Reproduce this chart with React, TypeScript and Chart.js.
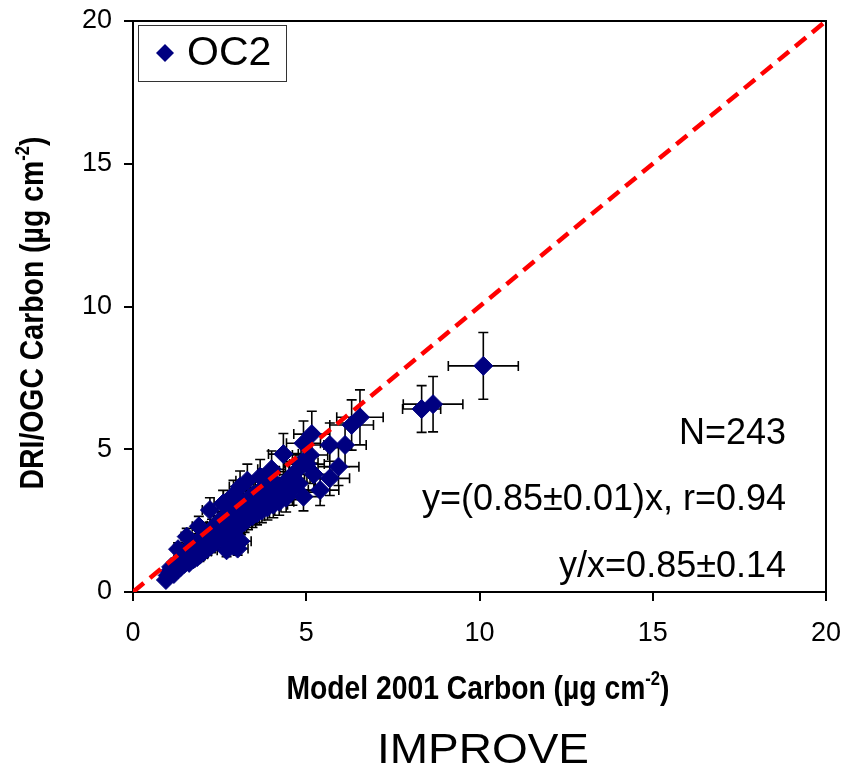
import React, { useEffect, useRef } from "react";
import { Chart, registerables } from "chart.js";

Chart.register(...registerables);

// ---- data ----
const seriesName = "OC2";
const xValues = [
  0.95, 1.0, 1.05, 1.1, 1.18, 1.22, 1.28, 1.32, 1.38, 1.42,
  1.48, 1.52, 1.55, 1.58, 1.62, 1.65, 1.68, 1.72, 1.75, 1.78,
  1.82, 1.85, 1.88, 1.92, 1.95, 1.98, 2.02, 2.05, 2.08, 2.12,
  2.15, 2.18, 2.22, 2.25, 2.28, 2.32, 2.35, 2.38, 2.42, 2.45,
  2.48, 2.52, 2.55, 2.58, 2.62, 2.65, 2.7, 2.72, 2.75, 2.78,
  2.82, 2.85, 2.88, 2.9, 2.92, 2.95, 2.98, 3.02, 3.05, 3.08,
  3.1, 3.12, 3.15, 3.18, 3.22, 3.25, 3.28, 3.32, 3.35, 3.4,
  3.45, 3.48, 3.52, 3.58, 3.62, 3.68, 3.72, 3.78, 3.82, 3.88,
  3.92, 3.98, 4.05, 4.1, 4.15, 4.22, 4.34, 4.35, 4.42, 4.5,
  4.6, 4.7, 4.78, 4.85, 4.92, 4.92, 5.02, 5.11, 5.16, 5.22,
  5.4, 5.68, 5.68, 5.93, 6.12, 6.31, 6.55, 8.33, 8.66, 10.11,
  1.55, 1.9, 2.22, 2.6, 2.9, 3.09, 3.3, 3.67, 4.0, 1.3,
];
const yValues = [
  0.42, 0.58, 0.72, 0.88, 0.63, 0.98, 0.8, 1.08, 0.88, 1.22,
  0.98, 1.32, 1.12, 1.48, 1.02, 1.28, 1.58, 1.38, 1.15, 1.68,
  1.46, 1.22, 1.78, 1.56, 1.32, 1.88, 1.62, 1.42, 1.98, 1.76,
  1.52, 2.08, 1.86, 1.62, 2.22, 1.96, 1.72, 2.32, 2.06, 1.82,
  2.46, 2.16, 1.92, 2.56, 2.26, 1.98, 1.46, 2.62, 2.32, 2.06,
  2.72, 2.42, 2.16, 1.62, 2.86, 2.52, 2.26, 1.52, 2.96, 2.62,
  1.78, 2.36, 3.08, 2.76, 2.46, 3.18, 2.86, 2.56, 3.28, 2.96,
  2.66, 3.4, 3.06, 2.76, 3.5, 3.16, 2.86, 3.6, 3.26, 2.96,
  3.72, 3.38, 3.06, 3.82, 3.48, 3.16, 4.83, 3.66, 3.3, 3.98,
  3.58, 4.22, 3.8, 4.52, 3.34, 5.21, 4.48, 4.8, 5.53, 4.12,
  3.57, 3.98, 5.15, 4.39, 5.15, 5.85, 6.12, 6.41, 6.58, 7.92,
  1.94, 2.3, 2.87, 3.1, 3.4, 3.69, 3.9, 4.04, 4.3, 1.5,
];
const xErrors = [
  0.1, 0.1, 0.11, 0.11, 0.12, 0.12, 0.13, 0.13, 0.14, 0.14,
  0.15, 0.15, 0.16, 0.16, 0.16, 0.17, 0.17, 0.17, 0.18, 0.18,
  0.18, 0.19, 0.19, 0.19, 0.2, 0.2, 0.2, 0.21, 0.21, 0.21,
  0.22, 0.22, 0.22, 0.23, 0.23, 0.23, 0.24, 0.24, 0.24, 0.25,
  0.25, 0.25, 0.26, 0.26, 0.26, 0.27, 0.27, 0.27, 0.28, 0.28,
  0.28, 0.29, 0.29, 0.29, 0.29, 0.3, 0.3, 0.3, 0.31, 0.31,
  0.31, 0.31, 0.32, 0.32, 0.32, 0.33, 0.33, 0.33, 0.34, 0.34,
  0.35, 0.35, 0.35, 0.36, 0.36, 0.37, 0.37, 0.38, 0.38, 0.39,
  0.39, 0.4, 0.41, 0.41, 0.42, 0.42, 0.43, 0.44, 0.44, 0.45,
  0.46, 0.47, 0.48, 0.49, 0.49, 0.49, 0.5, 0.51, 0.52, 0.52,
  0.54, 0.57, 0.57, 0.59, 0.61, 0.63, 0.67, 0.55, 0.86, 1.01,
  0.16, 0.19, 0.22, 0.26, 0.29, 0.31, 0.33, 0.37, 0.4, 0.13,
];
const yErrors = [
  0.07, 0.09, 0.11, 0.13, 0.1, 0.15, 0.12, 0.16, 0.13, 0.18,
  0.15, 0.2, 0.17, 0.22, 0.15, 0.19, 0.24, 0.21, 0.17, 0.25,
  0.22, 0.18, 0.27, 0.23, 0.2, 0.28, 0.24, 0.21, 0.3, 0.26,
  0.23, 0.31, 0.28, 0.24, 0.33, 0.29, 0.26, 0.35, 0.31, 0.27,
  0.37, 0.32, 0.29, 0.38, 0.34, 0.3, 0.22, 0.39, 0.35, 0.31,
  0.41, 0.36, 0.32, 0.24, 0.43, 0.38, 0.34, 0.23, 0.44, 0.39,
  0.27, 0.35, 0.46, 0.41, 0.37, 0.48, 0.43, 0.38, 0.49, 0.44,
  0.4, 0.51, 0.46, 0.41, 0.52, 0.47, 0.43, 0.54, 0.49, 0.44,
  0.56, 0.51, 0.46, 0.57, 0.52, 0.47, 0.72, 0.55, 0.5, 0.6,
  0.54, 0.63, 0.57, 0.68, 0.5, 0.78, 0.67, 0.72, 0.8, 0.62,
  0.54, 0.6, 0.77, 0.66, 0.77, 0.88, 0.96, 0.82, 0.97, 1.17,
  0.29, 0.35, 0.43, 0.46, 0.51, 0.55, 0.58, 0.6, 0.64, 0.22,
];
const oneToOneX = [0, 20];
const oneToOneY = [0, 20];
const axisMin = 0;
const axisMax = 20;
const tickStep = 5;
const statLines = ["N=243", "y=(0.85\u00B10.01)x, r=0.94", "y/x=0.85\u00B10.14"];
const xTitleMain = "Model 2001 Carbon (\u00B5g cm";
const yTitleMain = "DRI/OGC Carbon (\u00B5g cm";
const titleSup = "-2";
const titleClose = ")";
const caption = "IMPROVE";

const SANS = "'Liberation Sans', Arial, Helvetica, sans-serif";
const NAVY = "#000080";

function drawSupTitle(ctx: CanvasRenderingContext2D, main: string, size: number, targetWidth: number) {
  const mainFont = `bold ${size}px ${SANS}`;
  const supFont = `bold ${Math.round(size * 0.6)}px ${SANS}`;
  ctx.font = mainFont;
  const w1 = ctx.measureText(main).width;
  const w3 = ctx.measureText(titleClose).width;
  ctx.font = supFont;
  const w2 = ctx.measureText(titleSup).width;
  const total = w1 + w2 + w3;
  ctx.scale(targetWidth / total, 1);
  let x = -total / 2;
  ctx.textAlign = "left";
  ctx.textBaseline = "alphabetic";
  ctx.font = mainFont;
  ctx.fillText(main, x, 0);
  x += w1;
  ctx.font = supFont;
  ctx.fillText(titleSup, x, -size * 0.42);
  x += w2;
  ctx.font = mainFont;
  ctx.fillText(titleClose, x, 0);
}

const errorBarPlugin = {
  id: "errorBars",
  beforeDatasetsDraw(chart: any) {
    const { ctx, scales } = chart;
    const xs = scales.x;
    const ys = scales.y;
    const cap = 5;
    ctx.save();
    ctx.strokeStyle = "#000";
    ctx.lineWidth = 1.6;
    ctx.beginPath();
    for (let i = 0; i < xValues.length; i++) {
      const px = xs.getPixelForValue(xValues[i]);
      const py = ys.getPixelForValue(yValues[i]);
      const xl = xs.getPixelForValue(xValues[i] - xErrors[i]);
      const xr = xs.getPixelForValue(xValues[i] + xErrors[i]);
      const yt = ys.getPixelForValue(yValues[i] + yErrors[i]);
      const yb = ys.getPixelForValue(yValues[i] - yErrors[i]);
      ctx.moveTo(xl, py); ctx.lineTo(xr, py);
      ctx.moveTo(xl, py - cap); ctx.lineTo(xl, py + cap);
      ctx.moveTo(xr, py - cap); ctx.lineTo(xr, py + cap);
      ctx.moveTo(px, yt); ctx.lineTo(px, yb);
      ctx.moveTo(px - cap, yt); ctx.lineTo(px + cap, yt);
      ctx.moveTo(px - cap, yb); ctx.lineTo(px + cap, yb);
    }
    ctx.stroke();
    ctx.restore();
  },
};

const decorPlugin = {
  id: "decor",
  afterDraw(chart: any) {
    const { ctx, chartArea } = chart;
    const { left, right, top, bottom } = chartArea;
    ctx.save();
    // frame top & right
    ctx.strokeStyle = "#000";
    ctx.lineWidth = 2;
    ctx.beginPath();
    ctx.moveTo(left, top);
    ctx.lineTo(right, top);
    ctx.lineTo(right, bottom);
    ctx.stroke();

    // legend box
    ctx.fillStyle = "#fff";
    ctx.fillRect(138, 25, 148, 56);
    ctx.strokeStyle = "#333";
    ctx.lineWidth = 1;
    ctx.strokeRect(138.5, 25.5, 148, 56);
    const mx = 165;
    const my = 53;
    const r = 9;
    ctx.fillStyle = NAVY;
    ctx.beginPath();
    ctx.moveTo(mx, my - r);
    ctx.lineTo(mx + r, my);
    ctx.lineTo(mx, my + r);
    ctx.lineTo(mx - r, my);
    ctx.closePath();
    ctx.fill();
    ctx.fillStyle = "#000";
    ctx.font = `41px ${SANS}`;
    ctx.textAlign = "left";
    ctx.textBaseline = "alphabetic";
    ctx.fillText(seriesName, 187, 65);

    // statistics
    ctx.font = `36px ${SANS}`;
    ctx.textAlign = "right";
    const bases = [444, 510, 577];
    statLines.forEach((s, i) => ctx.fillText(s, 786, bases[i]));

    // x title
    ctx.save();
    ctx.translate(478, 699);
    drawSupTitle(ctx, xTitleMain, 34, 383);
    ctx.restore();

    // y title
    ctx.save();
    ctx.translate(43, 313);
    ctx.rotate(-Math.PI / 2);
    drawSupTitle(ctx, yTitleMain, 34, 353);
    ctx.restore();

    // caption
    ctx.save();
    ctx.font = `42px ${SANS}`;
    ctx.textAlign = "center";
    ctx.textBaseline = "alphabetic";
    const cw = ctx.measureText(caption).width;
    ctx.translate(483, 763);
    ctx.scale(212 / cw, 1);
    ctx.fillText(caption, 0, 0);
    ctx.restore();
    ctx.restore();
  },
};

function zeroPadding(s: any) {
  s.paddingTop = 0;
  s.paddingBottom = 0;
  s.paddingLeft = 0;
  s.paddingRight = 0;
}

export default function App() {
  const canvasRef = useRef<HTMLCanvasElement | null>(null);

  useEffect(() => {
    if (!canvasRef.current) return;
    Chart.defaults.font.family = SANS;
    const scatterPoints = xValues.map((x, i) => ({ x, y: yValues[i] }));
    const linePoints = oneToOneX.map((x, i) => ({ x, y: oneToOneY[i] }));
    const tickFont = { size: 27, family: SANS };
    const chart = new Chart(canvasRef.current, {
      type: "scatter",
      data: {
        datasets: [
          {
            type: "line",
            label: "1:1",
            data: linePoints,
            borderColor: "#FF0000",
            borderWidth: 4.5,
            borderDash: [14, 8],
            pointRadius: 0,
            showLine: true,
            fill: false,
          } as any,
          {
            label: seriesName,
            data: scatterPoints,
            pointStyle: "rectRot",
            pointRadius: 9.5,
            backgroundColor: NAVY,
            borderColor: NAVY,
            borderWidth: 1,
          },
        ],
      },
      options: {
        animation: false,
        responsive: false,
        maintainAspectRatio: false,
        events: [],
        layout: { padding: { left: 0, top: 21, right: 18, bottom: 0 } },
        plugins: { legend: { display: false }, tooltip: { enabled: false } },
        scales: {
          x: {
            type: "linear",
            min: axisMin,
            max: axisMax,
            ticks: { stepSize: tickStep, color: "#000", font: tickFont, padding: 16, maxRotation: 0 },
            grid: { drawOnChartArea: false, drawTicks: true, tickLength: 9, color: "#000", lineWidth: 2 },
            border: { display: true, color: "#000", width: 2 },
            afterFit: (s: any) => { s.height = 184; zeroPadding(s); },
          },
          y: {
            type: "linear",
            min: axisMin,
            max: axisMax,
            ticks: { stepSize: tickStep, color: "#000", font: tickFont, padding: 12 },
            grid: { drawOnChartArea: false, drawTicks: true, tickLength: 9, color: "#000", lineWidth: 2 },
            border: { display: true, color: "#000", width: 2 },
            afterFit: (s: any) => { s.width = 133; zeroPadding(s); },
          },
        },
      },
      plugins: [errorBarPlugin, decorPlugin],
    });
    return () => chart.destroy();
  }, []);

  return (
    <div style={{ position: "absolute", left: 0, top: 0, width: 844, height: 776, background: "#fff" }}>
      <canvas ref={canvasRef} width={844} height={776} style={{ display: "block", width: 844, height: 776 }} />
    </div>
  );
}
